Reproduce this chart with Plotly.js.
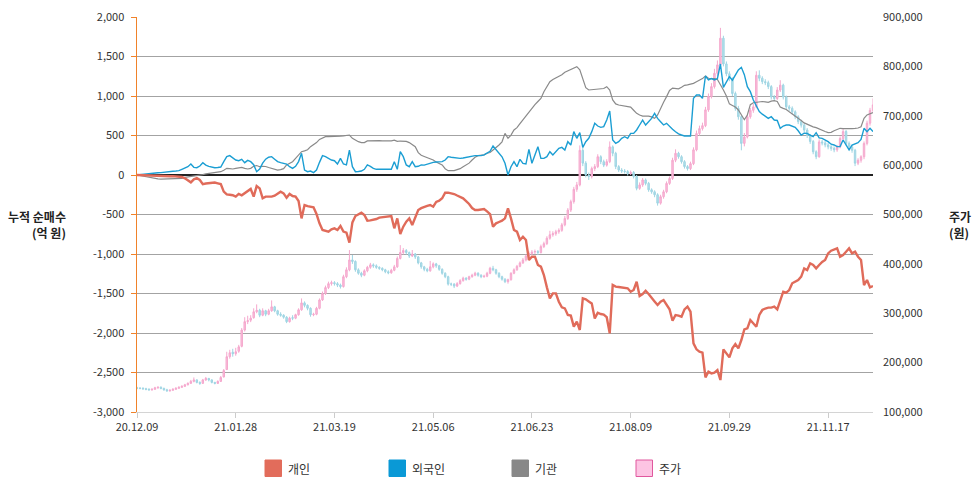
<!DOCTYPE html>
<html><head><meta charset="utf-8">
<script src="https://cdn.plot.ly/plotly-3.0.1.min.js"></script>
<style>html,body{margin:0;padding:0;background:#fff;}#chart{width:979px;height:488px;}</style>
</head><body><div id="chart"></div>
<script>
// ---- data ----
const startDate = '2020-12-09';
const marketHolidays = ['2020-12-25','2020-12-31','2021-01-01','2021-02-11','2021-02-12','2021-03-01','2021-05-05','2021-05-19','2021-08-16','2021-09-20','2021-09-21','2021-09-22','2021-10-04','2021-10-11'];
const xTickLabels = ['20.12.09','21.01.28','21.03.19','21.05.06','21.06.23','21.08.09','21.09.29','21.11.17'];
const leftTickVals = [-3000,-2500,-2000,-1500,-1000,-500,0,500,1000,1500,2000];
const leftTickText = ['-3,000','-2,500','-2,000','-1,500','-1,000','-500','0','500','1,000','1,500','2,000'];
const seriesNames = ['개인','외국인','기관','주가'];
const leftTitle = '누적 순매수<br>(억 원)';
const rightTitle = '주가<br>(원)';

// 누적 순매수 (억 원)
const individual = [
0,-2,-3,-5,-4,-6,-8,-7,-9,-10,
-12,-15,-14,-18,-20,-25,-42,-70,-93,-55,
-40,-63,-115,-108,-102,-98,-95,-105,-115,-211,
-245,-250,-256,-274,-240,-257,-230,-211,-177,-274,
-140,-169,-295,-274,-276,-274,-262,-240,-211,-232,
-287,-240,-266,-274,-330,-549,-380,-395,-401,-409,
-494,-612,-696,-710,-717,-688,-675,-696,-646,-717,
-730,-857,-600,-520,-494,-477,-506,-578,-575,-570,
-557,-540,-536,-528,-525,-519,-675,-549,-747,-654,
-590,-549,-633,-528,-443,-420,-401,-390,-380,-401,
-340,-325,-295,-224,-224,-232,-241,-260,-274,-295,
-330,-367,-418,-443,-443,-436,-430,-460,-494,-654,
-612,-595,-578,-549,-422,-549,-696,-717,-823,-781,
-823,-1076,-1034,-1034,-1139,-1160,-1266,-1422,-1561,-1498,
-1498,-1604,-1675,-1688,-1772,-1780,-1920,-1857,-1962,-1561,
-1574,-1600,-1625,-1815,-1743,-1760,-1766,-1800,-2004,-1392,
-1413,-1418,-1422,-1434,-1434,-1477,-1456,-1351,-1532,-1507,
-1465,-1507,-1561,-1600,-1646,-1604,-1583,-1646,-1700,-1844,
-1772,-1780,-1794,-1701,-1667,-1730,-2131,-2207,-2237,-2249,
-2562,-2490,-2511,-2502,-2469,-2595,-2207,-2258,-2308,-2194,
-2140,-2194,-2089,-1954,-1941,-1836,-1878,-1920,-1772,-1709,
-1690,-1679,-1679,-1667,-1701,-1582,-1477,-1490,-1456,-1371,
-1350,-1329,-1287,-1182,-1203,-1118,-1139,-1182,-1139,-1100,
-1076,-992,-958,-941,-928,-1034,-1013,-971,-928,-992,
-971,-1034,-1076,-1393,-1329,-1422,-1405];

const foreign = [
0,5,8,12,15,21,25,28,30,35,
42,50,48,50,55,72,85,105,139,97,
92,114,156,125,110,97,92,95,101,169,
232,245,215,190,181,198,156,185,169,130,
42,75,150,200,225,232,200,169,156,150,
139,105,84,110,170,274,63,42,50,30,
63,160,245,232,211,190,181,139,211,139,
127,316,105,42,45,50,72,127,110,84,
72,72,72,75,72,72,169,72,295,232,
127,105,169,105,110,127,125,139,145,160,
165,169,169,190,232,225,220,215,211,215,
225,232,240,245,245,245,255,274,300,367,
317,280,230,148,0,105,169,105,198,148,
139,325,148,253,359,211,211,232,295,253,
300,338,350,317,422,380,549,464,537,350,
422,464,549,654,620,603,612,696,810,443,
401,422,464,485,464,527,527,570,633,696,
633,680,717,780,717,675,633,654,612,580,
548,520,506,494,494,494,971,1013,1013,970,
1253,1203,1220,1203,1220,1405,1110,1170,1245,1200,
1270,1330,1363,1270,1118,1055,950,880,802,770,
738,717,738,696,690,591,620,633,633,620,
604,560,506,530,527,506,485,536,470,464,
443,422,390,380,359,359,443,380,317,380,
400,410,450,591,549,591,549];

const institution = [
0,-8,-15,-21,-30,-40,-42,-48,-51,-50,
-48,-46,-44,-42,-42,-42,-30,-25,-15,-10,
-8,-5,5,15,21,25,28,35,42,60,
84,80,76,84,90,97,84,76,84,110,
120,105,110,108,95,84,70,63,68,80,
127,150,169,210,250,295,305,320,359,385,
410,450,470,485,485,485,485,490,492,495,
500,506,464,440,422,410,410,432,435,435,
435,435,432,430,432,432,440,425,430,432,
425,410,380,359,283,250,235,220,215,190,
165,150,127,80,55,55,55,68,80,105,
125,150,190,225,245,250,255,275,285,317,
345,380,420,527,464,506,570,600,650,700,
740,800,840,890,930,970,1055,1120,1181,1210,
1230,1245,1270,1300,1320,1338,1350,1371,1330,1220,
1105,1076,1080,1085,1090,1090,1095,1118,1075,950,
900,886,880,878,870,860,820,781,760,745,
745,745,735,717,760,850,920,992,1070,1100,
1095,1090,1110,1135,1140,1150,1160,1180,1200,1220,
1253,1225,1220,1220,1210,1150,1076,1000,900,880,
860,823,760,700,760,890,915,920,925,930,
925,920,935,941,930,860,844,830,800,775,
750,720,690,660,640,625,610,600,580,565,
550,536,540,560,580,591,588,586,586,588,
590,595,610,718,760,775,789];

// 주가 (천 원)
const priceOpenK = [
149,148,148,147,146,145,146,149,150,148,
145,143,144,146,148,150,152,155,158,162,
165,160,158,165,168,165,160,158,162,171,
186,212,221,218,223,233,266,283,286,291,
303,306,296,305,298,305,313,305,298,296,
292,283,291,290,297,307,321,316,310,297,
298,310,327,340,352,360,362,360,357,354,
374,388,408,405,388,381,377,386,393,398,
396,393,391,388,384,382,387,394,411,423,
427,423,416,420,414,402,394,389,386,394,
400,396,389,381,374,359,359,355,360,366,
371,369,374,377,381,377,374,375,381,391,
388,381,374,369,364,368,381,388,395,402,
408,416,421,424,425,423,435,441,452,459,
461,465,468,479,492,509,526,551,560,630,
604,580,577,593,597,617,607,600,607,637,
624,597,590,588,587,583,585,577,553,560,
570,563,550,546,540,523,536,546,563,573,
610,624,617,607,597,593,603,631,664,674,
680,712,739,759,786,803,857,805,785,775,
745,715,698,644,657,698,711,718,782,776,
769,767,759,738,735,752,762,738,718,715,
708,698,688,681,671,660,648,627,617,647,
645,641,637,634,631,637,654,668,644,637,
630,604,610,617,644,685,711];

const priceHighK = [
151,150,150,149,148,148,151,152,152,149,
147,146,148,150,152,154,157,160,165,170,
166,162,167,171,169,166,161,164,173,187,
222,226,228,230,236,270,292,295,296,310,
318,309,310,307,309,326,315,307,302,298,
294,293,296,299,310,330,324,318,312,301,
313,330,344,356,364,366,365,363,360,378,
393,428,418,407,391,384,389,396,402,401,
399,395,393,390,387,390,398,415,438,432,
430,425,428,422,416,404,396,392,406,403,
402,398,391,383,376,362,361,363,369,374,
373,376,380,384,383,379,378,384,394,396,
390,383,376,371,370,383,391,398,405,412,
419,425,428,429,428,439,445,456,467,466,
469,472,483,497,513,530,556,566,640,636,
608,585,597,602,622,620,611,612,648,640,
627,600,594,592,590,589,588,580,565,574,
573,566,553,549,543,540,550,567,577,615,
632,627,620,610,600,607,636,670,680,686,
718,745,766,795,812,878,862,810,790,778,
749,720,701,665,703,716,724,790,792,780,
774,771,762,742,758,772,765,741,722,719,
711,701,692,685,675,663,651,630,652,651,
649,645,641,638,641,658,675,671,648,641,
633,614,620,648,690,716,735];

const priceLowK = [
146,146,145,144,143,143,145,147,146,143,
141,141,143,145,147,149,151,154,157,160,
158,155,157,163,162,158,156,157,161,170,
185,208,212,214,220,231,263,278,282,289,
300,292,294,294,296,303,302,295,293,289,
280,281,286,288,295,305,312,306,293,294,
296,308,325,337,349,356,356,353,350,352,
371,385,400,384,378,373,375,383,390,392,
390,388,385,381,379,380,385,392,409,419,
419,412,414,410,399,390,385,383,384,391,
392,386,378,371,356,355,351,353,358,364,
366,367,372,375,374,371,372,373,379,385,
378,371,366,361,360,366,379,386,393,400,
405,413,418,420,418,421,432,438,449,455,
457,461,465,476,489,505,522,546,557,598,
575,570,573,588,594,602,596,597,604,618,
592,586,584,583,579,580,573,549,550,556,
559,546,542,535,518,520,532,543,560,570,
606,613,603,593,589,590,600,628,660,670,
677,708,735,755,780,798,800,780,770,740,
710,692,630,638,654,694,706,715,770,764,
762,754,733,730,732,748,733,713,710,703,
693,683,676,666,655,643,622,612,615,640,
636,632,629,626,627,634,650,640,632,625,
598,600,605,612,640,680,706];

const priceCloseK = [
148,148,147,146,145,146,149,150,148,145,
143,144,146,148,150,152,155,158,162,165,
160,158,165,168,165,160,158,162,170,184,
212,220,218,222,232,266,283,285,290,303,
306,296,305,298,305,313,305,298,296,292,
283,290,290,297,307,321,316,310,297,298,
310,327,340,352,360,362,360,357,354,374,
388,408,405,388,381,377,386,393,398,396,
393,391,388,384,382,387,394,411,423,427,
423,416,420,414,402,394,389,386,394,400,
396,389,381,374,359,359,355,360,366,371,
369,374,377,381,377,374,375,381,391,388,
381,374,369,364,368,381,388,395,402,408,
416,421,424,425,423,435,441,452,459,461,
465,468,479,492,509,526,551,560,630,604,
580,577,593,597,617,607,600,607,637,624,
597,590,588,587,583,585,577,553,560,570,
563,550,546,540,523,536,546,563,573,610,
624,617,607,597,593,603,631,664,674,680,
712,739,759,786,803,857,805,785,775,745,
715,698,644,657,698,711,718,782,776,769,
767,759,738,735,752,762,738,718,715,708,
698,688,681,671,660,648,627,617,647,645,
641,637,634,631,637,654,668,644,637,630,
604,610,617,644,685,711,722];

// ---- trading calendar (KRX business days) ----
function tradingDays(start, holidays, n) {
  const out = [];
  const d = new Date(start + 'T00:00:00Z');
  const hol = new Set(holidays);
  while (out.length < n) {
    const iso = d.toISOString().slice(0, 10);
    const wd = d.getUTCDay();
    if (wd !== 0 && wd !== 6 && !hol.has(iso)) {
      out.push(iso.slice(2, 4) + '.' + iso.slice(5, 7) + '.' + iso.slice(8, 10));
    }
    d.setUTCDate(d.getUTCDate() + 1);
  }
  return out;
}
const dates = tradingDays(startDate, marketHolidays, priceCloseK.length);
const toWon = a => a.map(v => v * 1000);

// ---- layout helpers (pixel -> paper) ----
const L = 137, R = 873, T = 17, B = 412;
const px = x => (x - L) / (R - L);
const py = y => (B - y) / (B - T);

const colors = { ind: '#e06b5a', frg: '#1b9ed3', ins: '#8a8a8a' };
const FONT = 'Noto Sans CJK KR, Noto Sans, sans-serif';

const traces = [
  {
    type: 'candlestick', name: seriesNames[3], x: dates,
    open: toWon(priceOpenK), high: toWon(priceHighK), low: toWon(priceLowK), close: toWon(priceCloseK),
    xaxis: 'x', yaxis: 'y', whiskerwidth: 0,
    increasing: { line: { color: '#f5a8cd', width: 1 }, fillcolor: '#f9c0dc' },
    decreasing: { line: { color: '#9fd5e3', width: 1 }, fillcolor: '#b5e1ec' },
    hoverinfo: 'skip'
  },
  { type: 'scatter', mode: 'lines', name: seriesNames[2], x: dates, y: institution, xaxis: 'x', yaxis: 'y2', line: { color: colors.ins, width: 1.2 }, hoverinfo: 'skip' },
  { type: 'scatter', mode: 'lines', name: seriesNames[1], x: dates, y: foreign, xaxis: 'x', yaxis: 'y2', line: { color: colors.frg, width: 1.4 }, hoverinfo: 'skip' },
  { type: 'scatter', mode: 'lines', name: seriesNames[0], x: dates, y: individual, xaxis: 'x', yaxis: 'y2', line: { color: colors.ind, width: 2.4 }, hoverinfo: 'skip' }
];

const legendItems = [
  { name: seriesNames[0], x0: 265, fill: '#e26c5b', line: '#e26c5b' },
  { name: seriesNames[1], x0: 389, fill: '#0a99d6', line: '#0a99d6' },
  { name: seriesNames[2], x0: 512, fill: '#888888', line: '#888888' },
  { name: seriesNames[3], x0: 636, fill: '#fdc4e3', line: '#e0589e' }
];
const shapes = legendItems.map(it => ({
  type: 'rect', xref: 'paper', yref: 'paper',
  x0: px(it.x0), x1: px(it.x0 + 16.5), y0: py(476.5), y1: py(460),
  fillcolor: it.fill, line: { color: it.line, width: 1 }
}));
const annotations = legendItems.map(it => ({
  xref: 'paper', yref: 'paper', x: px(it.x0 + 21), y: py(468.5),
  xanchor: 'left', yanchor: 'middle', showarrow: false,
  text: it.name, font: { family: FONT, size: 12, color: '#333' }
}));
annotations.push(
  { xref: 'paper', yref: 'paper', x: px(68), y: py(224), xanchor: 'right', yanchor: 'middle', align: 'right', showarrow: false,
    text: '<b>' + leftTitle.replace('<br>', '</b><br><b>') + '</b>', font: { family: FONT, size: 12, color: '#222' } },
  { xref: 'paper', yref: 'paper', x: px(947), y: py(224), xanchor: 'left', yanchor: 'middle', align: 'left', showarrow: false,
    text: '<b>' + rightTitle.replace('<br>', '</b><br><b>') + '</b>', font: { family: FONT, size: 12, color: '#222' } }
);

const layout = {
  width: 979, height: 488,
  margin: { l: L, r: 979 - R, t: T, b: 488 - B, pad: 0 },
  paper_bgcolor: '#ffffff', plot_bgcolor: '#ffffff',
  showlegend: false,
  font: { family: FONT, size: 11, color: '#333' },
  xaxis: {
    type: 'category', range: [0, dates.length - 1],
    tickmode: 'array', tickvals: xTickLabels, ticktext: xTickLabels,
    showline: true, linecolor: '#d4d4d4', linewidth: 1,
    ticks: 'outside', ticklen: 5, tickcolor: '#cccccc',
    showgrid: false, zeroline: false,
    rangeslider: { visible: false },
    tickfont: { family: FONT, size: 11, color: '#333' }
  },
  yaxis: {
    side: 'right', range: [100000, 900000], dtick: 100000, tickformat: ',d',
    showgrid: false, zeroline: false, showline: false,
    ticks: '', ticklabelstandoff: 9,
    tickfont: { family: FONT, size: 11, color: '#333' }
  },
  yaxis2: {
    overlaying: 'y', side: 'left', anchor: 'x',
    range: [-3000, 2000], tickmode: 'array', tickvals: leftTickVals, ticktext: leftTickText,
    showgrid: true, gridcolor: '#a3a3a3', gridwidth: 1,
    zeroline: true, zerolinecolor: '#222222', zerolinewidth: 1.3,
    showline: true, linecolor: '#f0822a', linewidth: 1.5,
    ticks: 'outside', ticklen: 5, tickcolor: '#f0822a', tickwidth: 1,
    ticklabelstandoff: 4,
    tickfont: { family: FONT, size: 11, color: '#333' }
  },
  shapes: shapes,
  annotations: annotations
};

Plotly.newPlot('chart', traces, layout, { displayModeBar: false, staticPlot: true });
</script>
</body></html>
